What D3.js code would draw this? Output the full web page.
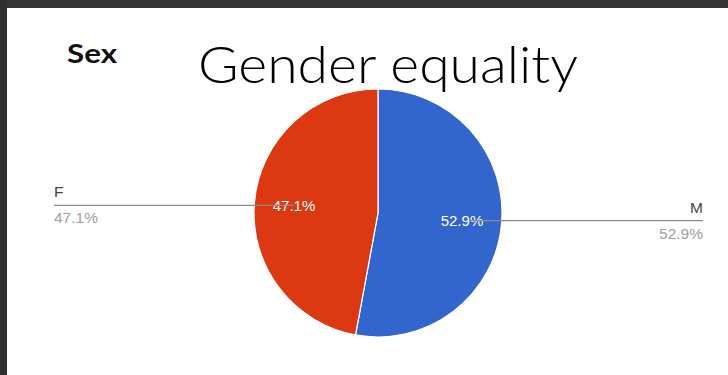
<!DOCTYPE html>
<html>
<head>
<meta charset="utf-8">
<script src="https://cdn.jsdelivr.net/npm/d3@7"></script>
<style>
  html, body { margin: 0; padding: 0; background: #ffffff; }
  svg { display: block; }
</style>
</head>
<body>
<svg id="chart" width="728" height="375"></svg>
<script>
// Survey answers for "Sex"
const categories = ["M", "F"];
const shares = [52.9, 47.1];
const sliceColors = ["#3366cc", "#dc3912"];
const valueLabels = ["52.9%", "47.1%"];

const svg = d3.select("#chart");
const W = 728, H = 375;

// slide frame
svg.append("rect").attr("width", W).attr("height", H).attr("fill", "#ffffff");
svg.append("rect").attr("x", 0).attr("y", 0).attr("width", W).attr("height", 8).attr("fill", "#353535");
svg.append("rect").attr("x", 0).attr("y", 0).attr("width", 7).attr("height", H).attr("fill", "#2c3032");

// headings
svg.append("text")
  .attr("x", 67).attr("y", 63)
  .attr("font-family", "Lato, 'DejaVu Sans', sans-serif")
  .attr("font-weight", 700)
  .attr("font-size", 27)
  .attr("textLength", 50).attr("lengthAdjust", "spacingAndGlyphs")
  .attr("fill", "#111")
  .text("Sex");

svg.append("text")
  .attr("x", 198).attr("y", 83)
  .attr("font-family", "Lato, 'Open Sans', sans-serif")
  .attr("font-weight", 300)
  .attr("font-size", 52)
  .attr("textLength", 380).attr("lengthAdjust", "spacingAndGlyphs")
  .attr("fill", "#000")
  .text("Gender equality");

// pie
const cx = 378, cy = 213, R = 124;
const data = categories.map((c, i) => ({ cat: c, value: shares[i], color: sliceColors[i], label: valueLabels[i] }));
const pie = d3.pie().value(d => d.value).sort(null);
const arcs = pie(data);
const arc = d3.arc().innerRadius(0).outerRadius(R);
const labelArc = d3.arc().innerRadius(R * 0.68).outerRadius(R * 0.68);

const g = svg.append("g").attr("transform", `translate(${cx},${cy})`);
g.selectAll("path.slice")
  .data(arcs)
  .join("path")
  .attr("class", "slice")
  .attr("d", arc)
  .attr("fill", d => d.data.color)
  .attr("stroke", "#ffffff")
  .attr("stroke-width", 1.2);

const font = "Arial, 'Liberation Sans', sans-serif";

// slice value labels
g.selectAll("text.inner")
  .data(arcs)
  .join("text")
  .attr("class", "inner")
  .attr("x", d => labelArc.centroid(d)[0])
  .attr("y", d => labelArc.centroid(d)[1])
  .attr("dy", "0.36em")
  .attr("text-anchor", "middle")
  .attr("font-family", font)
  .attr("font-size", 15)
  .attr("fill", "#ffffff")
  .text(d => d.data.label);

// leader lines and outer legend labels
const leftX = 54, rightX = 703;
arcs.forEach(d => {
  const [lx, ly] = labelArc.centroid(d);
  const ax = cx + lx, ay = cy + ly;
  const onRight = lx > 0;
  const endX = onRight ? rightX : leftX;
  const startX = onRight ? ax + 8 : ax;
  svg.append("line")
    .attr("x1", startX).attr("y1", ay)
    .attr("x2", endX).attr("y2", ay)
    .attr("stroke", "#8a8a8a").attr("stroke-width", 1.3);
  const anchor = onRight ? "end" : "start";
  svg.append("text")
    .attr("x", endX).attr("y", ay - 8)
    .attr("text-anchor", anchor)
    .attr("font-family", font).attr("font-size", 15.5)
    .attr("fill", "#444")
    .text(d.data.cat);
  svg.append("text")
    .attr("x", endX).attr("y", ay + 18)
    .attr("text-anchor", anchor)
    .attr("font-family", font).attr("font-size", 15.5)
    .attr("fill", "#a0a0a0")
    .text(d.data.label);
});
</script>
</body>
</html>
